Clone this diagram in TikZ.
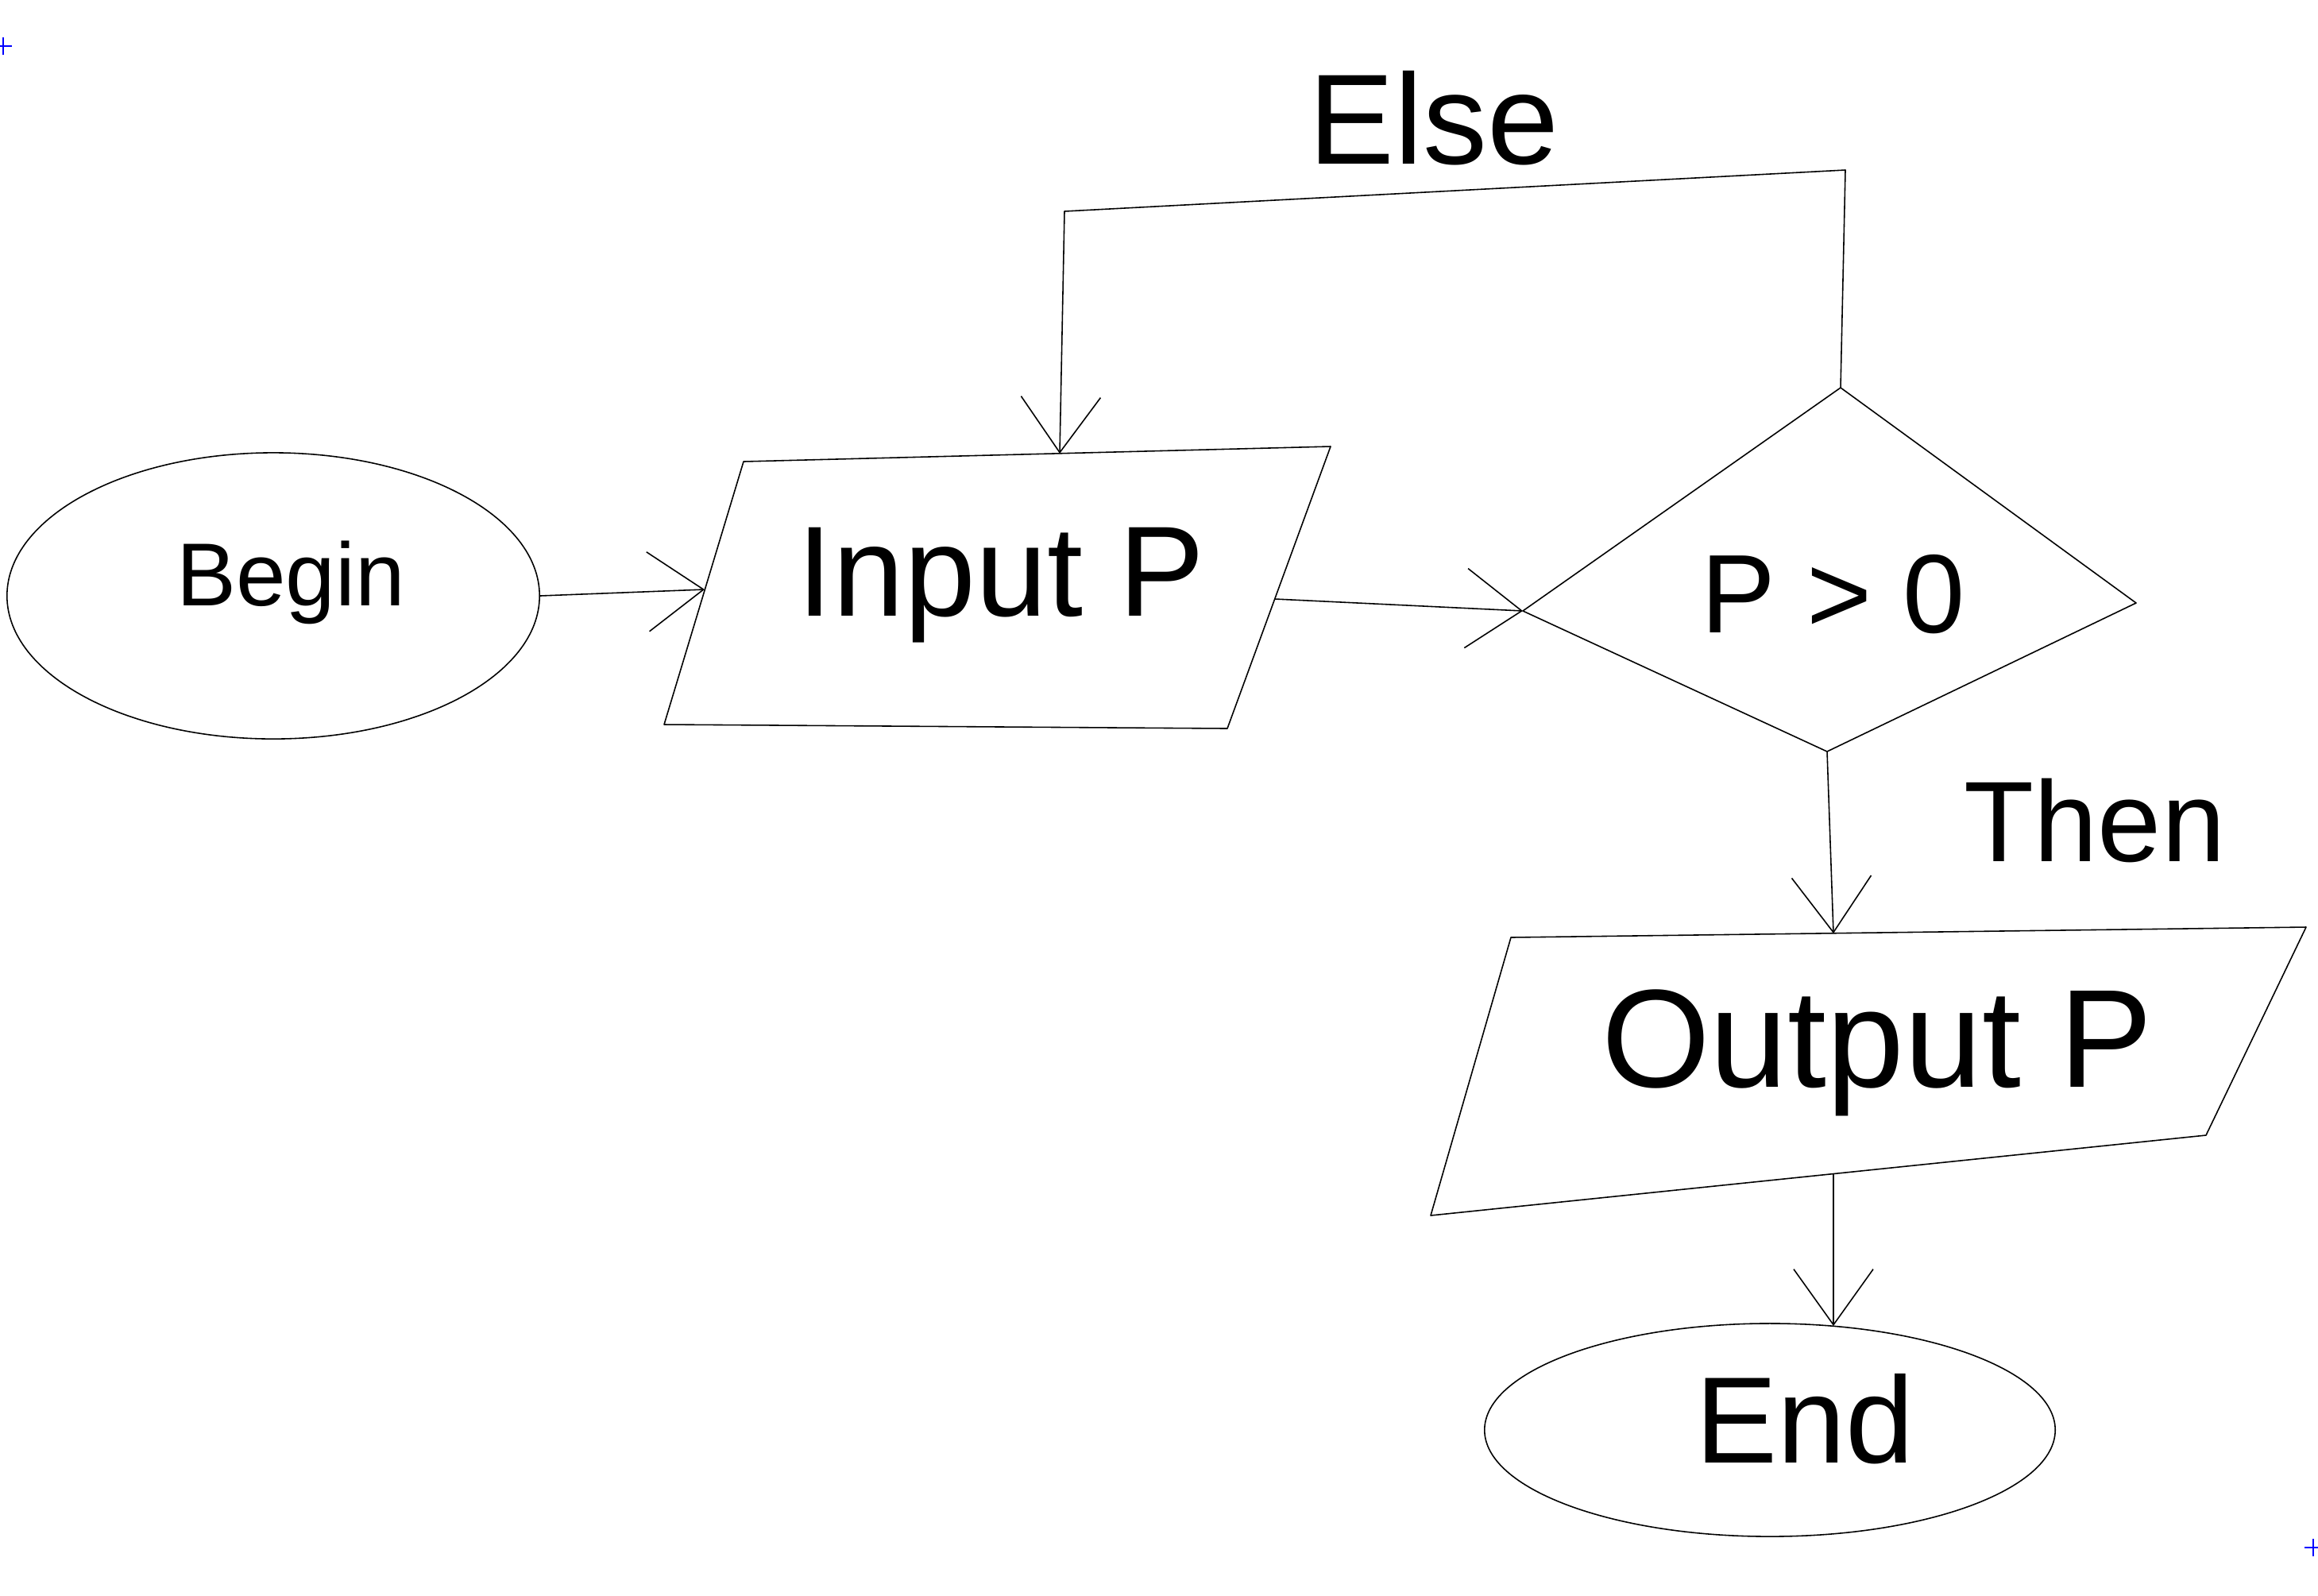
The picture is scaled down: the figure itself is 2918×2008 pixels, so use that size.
\documentclass[tikz,border=0pt]{standalone}
\usepackage{fontspec}
\setmainfont{Liberation Sans}
\usetikzlibrary{arrows.meta,shapes.geometric}
\begin{document}
\begin{tikzpicture}[x=0.01cm,y=-0.01cm,
  line/.style={line width=0.45pt, black, line join=round, line cap=round},
  arr/.style={line, -{Straight Barb[length=7mm,width=10mm,line width=0.45pt]}},
  txt/.style={inner sep=0pt},
  term/.style={ellipse, line, draw, inner sep=0pt},
  marker/.style={blue, line width=0.5pt}]
\useasboundingbox (0,0) rectangle (2918,2008);

% terminals
\node[term, minimum width=6.7cm, minimum height=3.6cm] (begin) at (344,750) {};
\node[txt, font=\fontsize{32}{36}\selectfont] (begintxt) at (366,733) {Begin};
\node[term, minimum width=7.18cm, minimum height=2.68cm] (end) at (2228,1800) {};
\node[txt, font=\fontsize{44}{48}\selectfont] (endtxt) at (2272,1786) {End};

% input parallelogram
\coordinate (inTL) at (936,581);
\coordinate (inTR) at (1675,562);
\coordinate (inBR) at (1545,917);
\coordinate (inBL) at (836,912);
\draw[line] (inTL) -- (inTR) -- (inBR) -- (inBL) -- cycle;
\node[txt, font=\fontsize{46}{50}\selectfont] (input) at (1260,737) {Input P};
\coordinate (inL) at (887,742);
\coordinate (inR) at (1605,754);
\coordinate (inT) at (1334,571);

% decision diamond
\coordinate (cL) at (1917,769);
\coordinate (cT) at (2317,488);
\coordinate (cR) at (2689,759);
\coordinate (cB) at (2300,946);
\draw[line] (cL) -- (cT) -- (cR) -- (cB) -- cycle;
\node[txt, font=\fontsize{40}{44}\selectfont] (cond) at (2308,748) {P > 0};

% output parallelogram
\coordinate (outTL) at (1902,1180);
\coordinate (outTR) at (2903,1167);
\coordinate (outBR) at (2777,1429);
\coordinate (outBL) at (1801,1530);
\draw[line] (outTL) -- (outTR) -- (outBR) -- (outBL) -- cycle;
\node[txt, font=\fontsize{50}{54}\selectfont] (output) at (2363,1325) {Output P};
\coordinate (outT) at (2308,1175);
\coordinate (outB) at (2308,1478);
\coordinate (endT) at (2308,1669);

% connectors
\draw[arr] (begin.east) -- (inL);
\draw[arr] (inR) -- (cL);
\coordinate (elseR) at (2323,214);
\coordinate (elseL) at (1340,266);
\draw[arr] (cT) -- (elseR) -- (elseL) -- (inT);
\draw[arr] (cB) -- (outT);
\draw[arr] (outB) -- (endT);

% labels
\node[txt, font=\fontsize{46}{50}\selectfont] (elselbl) at (1805,149) {Else};
\node[txt, font=\fontsize{41}{45}\selectfont] (thenlbl) at (2637,1033) {Then};

% corner markers
\coordinate (m1) at (4,58);
\coordinate (m2) at (2912,1948);
\draw[marker] ([xshift=-3]m1) -- ([xshift=3]m1) ([yshift=-3]m1) -- ([yshift=3]m1);
\draw[marker] ([xshift=-3]m2) -- ([xshift=3]m2) ([yshift=-3]m2) -- ([yshift=3]m2);
\end{tikzpicture}
\end{document}
